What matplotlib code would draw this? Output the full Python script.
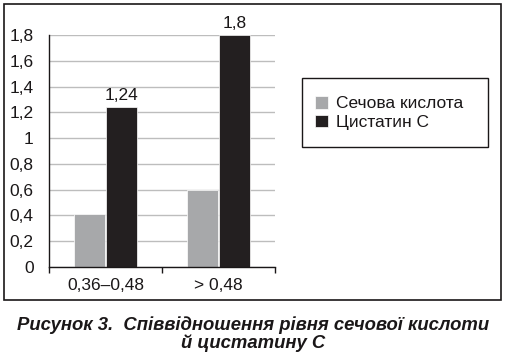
# Bar chart: uric acid vs cystatin C by group
import numpy as np
import matplotlib
matplotlib.use('Agg')
import matplotlib.pyplot as plt
from matplotlib.patches import Rectangle

plt.rcParams['font.family'] = ['Liberation Sans', 'DejaVu Sans']

# data
groups = ['0,36–0,48', '> 0,48']
uric_acid = [0.41, 0.6]
cystatin = [1.24, 1.8]
series_names = ['Сечова кислота', 'Цистатин С']
yticks = [0, 0.2, 0.4, 0.6, 0.8, 1.0, 1.2, 1.4, 1.6, 1.8]
caption = 'Рисунок 3.  Співвідношення рівня сечової кислоти\nй цистатину С'

W, H = 507, 357
ink = '#1a1718'
fig = plt.figure(figsize=(W / 100, H / 100), dpi=100)

# outer frame
fig.patches.append(Rectangle((4 / W, 1 - 300 / H), 497 / W, 296 / H,
                             transform=fig.transFigure, fill=False,
                             edgecolor=ink, linewidth=1.2))

ax = fig.add_axes([49 / W, 1 - 267 / H, 226 / W, 232 / H])

x = np.arange(len(groups))
barWidth = 0.275
off = 0.142
b1 = ax.bar(x - off, uric_acid, width=barWidth, color='#a7a8aa',
            edgecolor='white', linewidth=0.5, label=series_names[0], zorder=3)
b2 = ax.bar(x + off, cystatin, width=barWidth, color='#231f20',
            edgecolor='white', linewidth=0.5, label=series_names[1], zorder=3)

for xi, v in zip(x, cystatin):
    ax.annotate(('%g' % v).replace('.', ','), (xi + off, v),
                xytext=(0, 3), textcoords='offset points',
                ha='center', va='bottom', fontsize=12.5, color=ink)

ax.set_xlim(-0.5, len(groups) - 0.5)
ax.set_ylim(0, 1.8)
ax.set_yticks(yticks)
ax.set_yticklabels([('%g' % t).replace('.', ',') for t in yticks])
ax.tick_params(axis='y', length=0, pad=11, labelsize=12.5, colors=ink)

ax.set_xticks(x)
ax.set_xticklabels(groups)
ax.tick_params(axis='x', length=0, pad=8, labelsize=12.5, colors=ink)
ax.set_xticks([-0.5, 0.5, 1.5], minor=True)
ax.tick_params(axis='x', which='minor', length=4, width=1, color=ink)

ax.grid(axis='y', color='#bdbdbd', linewidth=1, zorder=0)
ax.set_axisbelow(True)
for s in ['top', 'right']:
    ax.spines[s].set_visible(False)
for s in ['left', 'bottom']:
    ax.spines[s].set_color(ink)
    ax.spines[s].set_linewidth(1)
    ax.spines[s].set_zorder(4)

# legend box
fig.patches.append(Rectangle((302 / W, 1 - 147 / H), 186 / W, 69 / H,
                             transform=fig.transFigure, fill=False,
                             edgecolor=ink, linewidth=1))
fig.legend(handles=[b1, b2], labels=series_names, loc='center left',
           bbox_to_anchor=(306 / W, 1 - 113 / H), frameon=False,
           fontsize=12.5, handlelength=0.75, handleheight=0.75,
           handletextpad=0.5, labelspacing=0.2, borderpad=0,
           labelcolor=ink)

fig.text(0.5, 1 - 334 / H, caption, ha='center', va='center',
         fontsize=13.3, fontweight='bold', fontstyle='italic',
         color=ink, linespacing=1.05)

plt.savefig('out.png', dpi=100)
